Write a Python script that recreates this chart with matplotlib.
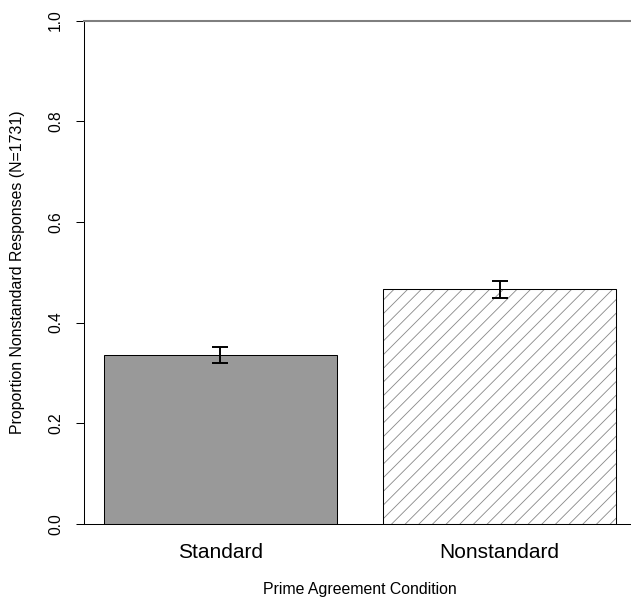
import numpy as np
import matplotlib
matplotlib.use("Agg")
import matplotlib.pyplot as plt

plt.rcParams["font.family"] = ["Liberation Sans", "DejaVu Sans"]
plt.rcParams["hatch.linewidth"] = 0.75
plt.rcParams["hatch.color"] = "#8a8a8a"

# values
conditions = ["Standard", "Nonstandard"]
proportions = [0.336, 0.466]
std_errors = [0.016, 0.017]
yticks = [0.0, 0.2, 0.4, 0.6, 0.8, 1.0]

DPI = 82
W, H = 631, 604
fig = plt.figure(figsize=(W / DPI, H / DPI), dpi=DPI)
# R-style plot region (runs a little past the right edge of the picture)
ax = fig.add_axes([83.6 / W, (H - 524) / H, (636.4 - 83.6) / W, (524 - 20.5) / H])

# R barplot layout: width 1, space 0.2
xpos = 0.7 + 1.2 * np.arange(len(conditions))
ax.bar(xpos[0], proportions[0], width=1.0, color="#999999", edgecolor="black", linewidth=0.9)
ax.bar(xpos[1], proportions[1], width=1.0, color="white", edgecolor="#8a8a8a",
       hatch="//", linewidth=0.9)
ax.bar(xpos[1], proportions[1], width=1.0, fill=False, edgecolor="black", linewidth=0.9)

ax.errorbar(xpos, proportions, yerr=std_errors, fmt="none", ecolor="black",
            elinewidth=1.7, capsize=7, capthick=1.7, zorder=5)

ax.set_xlim(0.112, 2.488)
ax.set_ylim(0, 1)

ax.spines["right"].set_visible(False)
ax.spines["left"].set_color("black")
ax.spines["left"].set_linewidth(0.9)
ax.spines["bottom"].set_color("black")
ax.spines["bottom"].set_linewidth(0.9)
ax.spines["top"].set_color("#7f7f7f")
ax.spines["top"].set_linewidth(1.8)

ax.set_yticks(yticks)
ax.set_yticklabels([f"{t:.1f}" for t in yticks], rotation=90, va="center")
ax.tick_params(axis="y", length=7, width=0.9, pad=11, labelsize=13.7)

ax.set_xticks(xpos)
ax.set_xticklabels(conditions)
ax.tick_params(axis="x", length=0, pad=17, labelsize=18.3)

ax.set_xlabel("Prime Agreement Condition", fontsize=13.9, labelpad=17)
fig.text(18 / W, 1 - 272 / H, "Proportion Nonstandard Responses (N=1731)",
         rotation=90, ha="center", va="center", fontsize=13.9)

fig.savefig("out.png", dpi=DPI)
